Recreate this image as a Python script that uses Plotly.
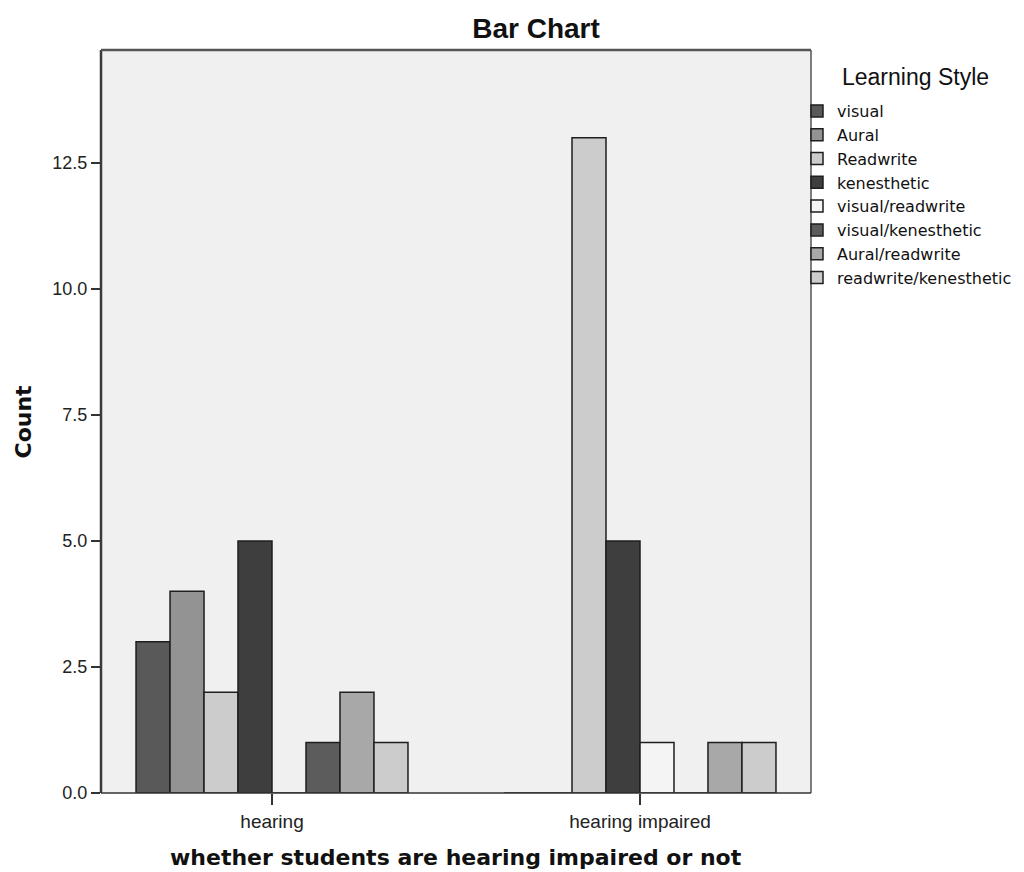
import plotly.graph_objects as go

categories = ["hearing", "hearing impaired"]
styles = ["visual", "Aural", "Readwrite", "kenesthetic", "visual/readwrite",
          "visual/kenesthetic", "Aural/readwrite", "readwrite/kenesthetic"]
visual = [3, 0]
aural = [4, 0]
readwrite = [2, 13]
kenesthetic = [5, 5]
visual_readwrite = [0, 1]
visual_kenesthetic = [1, 0]
aural_readwrite = [2, 1]
readwrite_kenesthetic = [1, 1]
series = [visual, aural, readwrite, kenesthetic, visual_readwrite,
          visual_kenesthetic, aural_readwrite, readwrite_kenesthetic]
colors = ["#595959", "#939393", "#cccccc", "#3e3e3e", "#f4f4f4",
          "#5c5c5c", "#a8a8a8", "#cccccc"]

fig = go.Figure()
for name, vals, col in zip(styles, series, colors):
    fig.add_trace(go.Bar(
        x=categories, y=vals, name=name,
        marker=dict(color=col, line=dict(color="#1e1e1e", width=1.5)),
    ))

# page body has an 8px margin; work in screen pixels and subtract it
O = 8
W, H = 1024 - O, 872 - O
PL, PR, PT, PB = 101, 811, 50, 793           # plot box on screen
L, R, T, B = PL - O, W - (PR - O), PT - O, H - (PB - O)
PW, PH = PR - PL, PB - PT

def cx(px):  # screen x -> container fraction
    return (px - O) / W

def cy(py):  # screen y -> container fraction (from bottom)
    return 1 - (py - O) / H

fig.update_layout(
    width=W, height=H,
    margin=dict(l=L, r=R, t=T, b=B, autoexpand=False),
    paper_bgcolor="white", plot_bgcolor="#f0f0f0",
    barmode="group", bargap=0.261, bargroupgap=0,
    font=dict(family="Liberation Sans, Arial", size=18, color="#222"),
    title=dict(text="Bar Chart", x=cx(536), xanchor="center",
               y=cy(28), yanchor="middle",
               font=dict(family="Liberation Sans, Arial", size=28, weight="bold", color="#111")),
    legend=dict(
        xref="container", yref="container",
        x=cx(797), xanchor="left", y=cy(94), yanchor="top",
        font=dict(family="DejaVu Sans", size=16, color="#111"),
        bgcolor="rgba(0,0,0,0)", itemclick=False, traceorder="normal",
    ),
    xaxis=dict(
        type="category", range=[-0.4647, 1.4647],
        showline=False, ticks="outside", ticklen=11, tickwidth=2, tickcolor="#333",
        showgrid=False, zeroline=False,
        tickfont=dict(size=19, color="#222"),
    ),
    yaxis=dict(
        range=[0, 14.74], tickvals=[0, 2.5, 5, 7.5, 10, 12.5], tickformat=".1f",
        showline=False, ticks="outside", ticklen=9, tickwidth=2, tickcolor="#333",
        showgrid=False, zeroline=False,
        tickfont=dict(size=18, color="#222"),
    ),
    showlegend=True,
)

# frame
fig.add_shape(type="line", xref="paper", yref="paper", x0=0, x1=0, y0=0, y1=1,
              line=dict(color="#3a3a3a", width=2.5))
fig.add_shape(type="line", xref="paper", yref="paper", x0=0, x1=1, y0=1, y1=1,
              line=dict(color="#555", width=2.5))
fig.add_shape(type="line", xref="paper", yref="paper", x0=1, x1=1, y0=0, y1=1,
              line=dict(color="#555", width=1.5))
fig.add_shape(type="line", xref="paper", yref="paper", x0=0, x1=1, y0=0, y1=0,
              line=dict(color="#333", width=1.5))

fig.add_annotation(text="Learning Style", xref="paper", yref="paper",
                   x=(915 - PL) / PW, y=(PB - 77) / PH,
                   xanchor="center", yanchor="middle", showarrow=False,
                   font=dict(family="Liberation Sans, Arial", size=23, color="#111"))
fig.add_annotation(text="whether students are hearing impaired or not",
                   xref="paper", yref="paper", x=0.5, y=-(857 - PB) / PH,
                   xanchor="center", yanchor="middle", showarrow=False,
                   font=dict(family="DejaVu Sans", size=22, weight="bold", color="#111"))
fig.add_annotation(text="Count", xref="paper", yref="paper",
                   x=-(PL - 23) / PW, y=0.5, textangle=-90,
                   xanchor="center", yanchor="middle", showarrow=False,
                   font=dict(family="DejaVu Sans", size=22, weight="bold", color="#111"))

fig.write_html("out.html")
